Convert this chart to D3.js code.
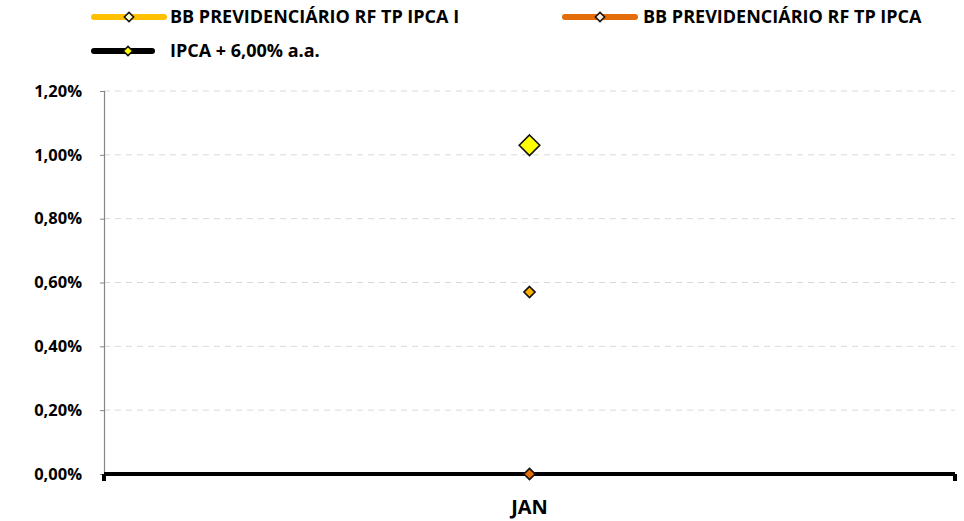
<!DOCTYPE html>
<html>
<head>
<meta charset="utf-8">
<script src="https://cdn.jsdelivr.net/npm/d3@7"></script>
<style>
  body { margin: 0; background: #fff; }
  text { font-family: "Open Sans", "DejaVu Sans", sans-serif; font-weight: bold; fill: #000; }
</style>
</head>
<body>
<script>
// months on the x axis
var months = ["JAN"];
// series names and values (in %)
var seriesNames = ["BB PREVIDENCIÁRIO RF TP IPCA I", "BB PREVIDENCIÁRIO RF TP IPCA", "IPCA + 6,00% a.a."];
var ipcaI = [0.57];
var ipca = [0.00];
var meta = [1.03];
var yTicks = [0, 0.2, 0.4, 0.6, 0.8, 1.0, 1.2];

var width = 964, height = 521;
var margin = {top: 91, right: 9, bottom: 47, left: 104};
var innerW = width - margin.left - margin.right,
    innerH = height - margin.top - margin.bottom;

var svg = d3.select("body").append("svg")
    .attr("width", width)
    .attr("height", height);

var x = d3.scalePoint().domain(months).range([0, innerW]).padding(0.5);
var y = d3.scaleLinear().domain([0, 1.2]).range([innerH, 0]);

var g = svg.append("g")
    .attr("transform", "translate(" + margin.left + "," + margin.top + ")");

// gridlines
g.selectAll(".grid")
    .data(yTicks.slice(1))
  .enter().append("line")
    .attr("x1", 0).attr("x2", innerW)
    .attr("y1", function(d) { return y(d); })
    .attr("y2", function(d) { return y(d); })
    .attr("stroke", "#d9d9d9")
    .attr("stroke-width", 1)
    .attr("stroke-dasharray", "6,5");

// y axis
var yAxis = g.append("g")
    .call(d3.axisLeft(y).tickValues(yTicks).tickSize(4).tickPadding(18)
      .tickFormat(function(d) { return d3.format(".2f")(d).replace(".", ",") + "%"; }));
yAxis.select(".domain").attr("stroke", "#868686").attr("stroke-width", 1.2);
yAxis.selectAll(".tick line").attr("stroke", "#868686");
yAxis.selectAll("text").style("font-size", "16.5px").attr("fill", "#000");

// x axis (thick black baseline)
g.append("line")
    .attr("x1", 0).attr("x2", innerW)
    .attr("y1", y(0)).attr("y2", y(0))
    .attr("stroke", "#000").attr("stroke-width", 4);
g.selectAll(".xend")
    .data([0, innerW])
  .enter().append("line")
    .attr("x1", function(d) { return d; }).attr("x2", function(d) { return d; })
    .attr("y1", y(0)).attr("y2", y(0) + 7)
    .attr("stroke", "#000").attr("stroke-width", 4);
g.selectAll(".xlab")
    .data(months)
  .enter().append("text")
    .attr("x", function(d) { return x(d); })
    .attr("y", innerH + 40)
    .attr("text-anchor", "middle")
    .style("font-size", "20px")
    .text(function(d) { return d; });

// markers
var diamond = d3.symbol().type(d3.symbolDiamond2);
function drawPoints(values, size, fill) {
  g.selectAll(null)
      .data(values)
    .enter().append("path")
      .attr("d", diamond.size(size)())
      .attr("transform", function(d, i) { return "translate(" + x(months[i]) + "," + y(d) + ")"; })
      .attr("fill", fill)
      .attr("stroke", "#111")
      .attr("stroke-width", 1.6);
}
drawPoints(ipca, 80, "#e46c0a");
drawPoints(ipcaI, 80, "#ffb000");
drawPoints(meta, 270, "#ffff00");

// legend
var legend = [
  {name: seriesNames[0], color: "#ffc000", mfill: "#ffffcc", x: 92, y: 17},
  {name: seriesNames[1], color: "#e46c0a", mfill: "#fde9d9", x: 563, y: 17},
  {name: seriesNames[2], color: "#000000", mfill: "#ffff00", x: 92, y: 51}
];
var lg = svg.selectAll(".legend")
    .data(legend)
  .enter().append("g")
    .attr("transform", function(d) { return "translate(" + d.x + "," + d.y + ")"; });
lg.append("line")
    .attr("x1", 2).attr("x2", function(d, i) { return i == 2 ? 60 : 72; })
    .attr("stroke", function(d) { return d.color; })
    .attr("stroke-width", 6)
    .attr("stroke-linecap", "round");
lg.append("path")
    .attr("d", diamond.size(55)())
    .attr("transform", function(d, i) { return "translate(" + (i == 2 ? 36 : 37) + ",0)"; })
    .attr("fill", function(d) { return d.mfill; })
    .attr("stroke", "#111")
    .attr("stroke-width", 1.5);
lg.append("text")
    .attr("x", function(d, i) { return i == 1 ? 80 : 78; })
    .attr("dy", "0.36em")
    .style("font-size", "18px")
    .text(function(d) { return d.name; });
</script>
</body>
</html>
